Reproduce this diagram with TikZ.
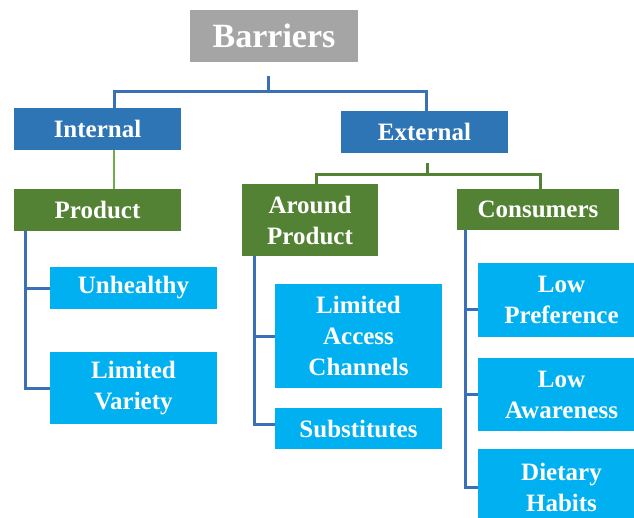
\documentclass[tikz,border=0pt]{standalone}
\usepackage{fontspec}
\setmainfont{Liberation Serif}
\definecolor{boxgray}{HTML}{A5A5A5}
\definecolor{boxblue}{HTML}{2E75B6}
\definecolor{boxgreen}{HTML}{548235}
\definecolor{boxcyan}{HTML}{00B0F0}
\definecolor{linkblue}{HTML}{3B6FB6}
\definecolor{linkgreen}{HTML}{70AD47}
\begin{document}
\begin{tikzpicture}[x=1pt,y=-1pt,
  box/.style={inner sep=0pt,text=white,align=center,
    font=\bfseries\fontsize{25}{31}\selectfont},
  graybox/.style={box,fill=boxgray,font=\bfseries\fontsize{34}{40}\selectfont},
  bluebox/.style={box,fill=boxblue},
  greenbox/.style={box,fill=boxgreen},
  cyanbox/.style={box,fill=boxcyan},
  bline/.style={draw=linkblue,line width=3pt},
  gline/.style={draw=boxgreen,line width=3pt},
  lgline/.style={draw=linkgreen,line width=2.5pt}]
\useasboundingbox (0,0) rectangle (634,517);

% first level
\node[graybox,minimum width=168pt,minimum height=52pt] (bar) at (274,36) {Barriers};
\node[bluebox,minimum width=167pt,minimum height=42pt] (int) at (97.5,129) {Internal};
\node[bluebox,minimum width=167pt,minimum height=42pt] (ext) at (424.5,132) {External};

% second level
\node[greenbox,minimum width=167pt,minimum height=42pt] (prod) at (97.5,210) {Product};
\node[greenbox,minimum width=136pt,minimum height=72pt] (ap) at (310,220) {Around\\Product};
\node[greenbox,minimum width=162pt,minimum height=41pt] (cons) at (538,209.5) {Consumers};

% leaves
\node[cyanbox,minimum width=167pt,minimum height=42pt] (unh) at (133.5,288) {Unhealthy};
\node[cyanbox,minimum width=167pt,minimum height=72pt] (lv) at (133.5,388) {Limited\\Variety};
\node[cyanbox,minimum width=167pt,minimum height=104pt] (lac) at (358.5,336) {Limited\\Access\\Channels};
\node[cyanbox,minimum width=167pt,minimum height=41pt] (sub) at (358.5,428.5) {Substitutes};
\node[cyanbox,minimum width=167pt,minimum height=74pt] (lp) at (561.5,300) {Low\\Preference};
\node[cyanbox,minimum width=167pt,minimum height=73pt] (la) at (561.5,394.5) {Low\\Awareness};
\node[cyanbox,minimum width=167pt,minimum height=76pt] (dh) at (561.5,487) {Dietary\\Habits};

% junction points of the branches
\coordinate (topstem) at (268,76);
\coordinate (topbar) at (268,91);
\coordinate (extstem) at (427,163);
\coordinate (extbar) at (427,174);
\coordinate (subin) at ([yshift=4pt]sub.west);
\coordinate (lpin) at ([yshift=-9pt]lp.west);

% Barriers -> Internal / External
\draw[bline] (topstem) -- (topbar);
\draw[bline] ([xshift=16.5pt]int.north) |- (topbar) -| ([xshift=1.5pt]ext.north);

% Internal -> Product
\draw[lgline] ([xshift=16.5pt]int.south) -- ([xshift=16.5pt]prod.north);

% External -> Around Product / Consumers
\draw[gline] (extstem) -- (extbar);
\draw[gline] ([xshift=6pt]ap.north) |- (extbar) -| ([xshift=2pt]cons.north);

% Product -> leaves
\draw[bline] ([xshift=-72.5pt]prod.south) |- (lv.west);
\draw[bline] ([xshift=-72.5pt]prod.south |- unh.west) -- (unh.west);

% Around Product -> leaves
\draw[bline] ([xshift=-56pt]ap.south) |- (subin);
\draw[bline] ([xshift=-56pt]ap.south |- lac.west) -- (lac.west);

% Consumers -> leaves
\draw[bline] ([xshift=-73pt]cons.south) |- (dh.west);
\draw[bline] ([xshift=-73pt]cons.south |- lpin) -- (lpin);
\draw[bline] ([xshift=-73pt]cons.south |- la.west) -- (la.west);
\end{tikzpicture}
\end{document}
